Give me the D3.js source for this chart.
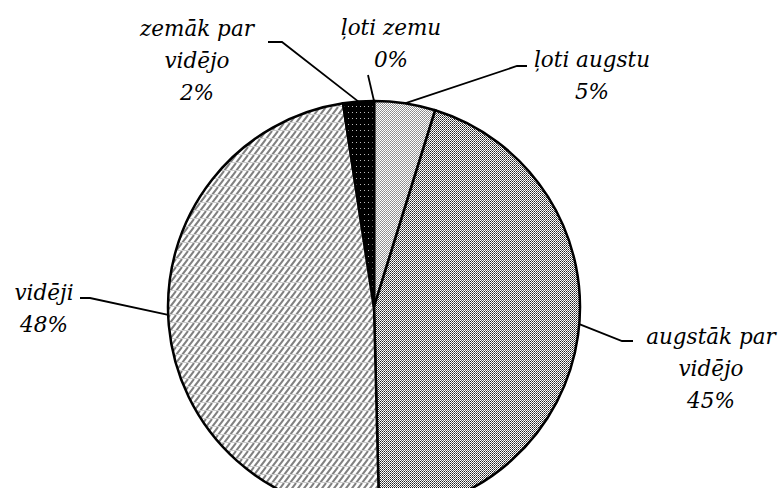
<!DOCTYPE html>
<html lang="lv">
<head>
    <meta charset="UTF-8">
    <title>Pie</title>
    <script src="https://d3js.org/d3.v7.min.js"></script>
    <style>
        body { margin: 0; background: #fff; }
        text { font-family: 'DejaVu Serif', serif; font-style: italic; font-size: 21.5px; fill: #000; }
        .slice { stroke: #000; stroke-width: 2.5px; }
        .leader { stroke: #000; stroke-width: 1.8px; fill: none; }
    </style>
</head>
<body>
    <svg id="chart" width="781" height="488"></svg>
    <script>
        // Dati
        const categories = ["ļoti augstu", "augstāk par vidējo", "vidēji", "zemāk par vidējo", "ļoti zemu"];
        const values = [4.8, 44.8, 48.0, 2.4, 0.0];
        const labelLines = [["ļoti augstu", "5%"], ["augstāk par", "vidējo", "45%"], ["vidēji", "48%"], ["zemāk par", "vidējo", "2%"], ["ļoti zemu", "0%"]];

        // Etiķešu izvietojums (teksta centrs, pirmā bāzlīnija, līnijas elkonis, piesaistes nobīde)
        const labelLayout = [
            { x: 592, y: 67, elbow: [[517, 66], [527, 66]], shift: 0 },
            { x: 711, y: 344, elbow: [[622, 341], [633, 341]], shift: -0.055 },
            { x: 44, y: 300, elbow: [[90, 298], [80, 298]], shift: 0.05 },
            { x: 197, y: 36, elbow: [[282, 42], [268, 42]], shift: 0 },
            { x: 391, y: 35, elbow: [[368, 75]], shift: 0 }
        ];

        const svg = d3.select("#chart");
        const cx = 374, cy = 307, r = 206;

        // Rakstu aizpildījumi
        const defs = svg.append("defs");
        function pattern(id, w, h, draw) {
            const p = defs.append("pattern").attr("id", id)
                .attr("patternUnits", "userSpaceOnUse")
                .attr("width", w).attr("height", h);
            p.append("rect").attr("width", w).attr("height", h).attr("fill", "#fff");
            draw(p);
        }
        // gaiša rūtiņa
        pattern("p0", 2, 2, p => {
            p.append("rect").attr("width", 1).attr("height", 1).attr("fill", "#888");
            p.append("rect").attr("x", 1).attr("y", 1).attr("width", 1).attr("height", 1).attr("fill", "#999");
        });
        // tumšāka rūtiņa
        pattern("p1", 2, 2, p => {
            p.append("rect").attr("width", 1).attr("height", 1).attr("fill", "#222");
            p.append("rect").attr("x", 1).attr("y", 1).attr("width", 1).attr("height", 1).attr("fill", "#666");
        });
        // slīpas svītras
        pattern("p2", 6, 8, p => {
            p.append("path").attr("d", "M0,8 L6,0 M-6,8 L0,0 M6,8 L12,0")
                .attr("stroke", "#808080").attr("stroke-width", 2);
            p.append("rect").attr("y", 7).attr("width", 6).attr("height", 1).attr("fill", "#ccc");
        });
        // melns ar punktiem
        pattern("p3", 4, 6, p => {
            p.select("rect").attr("fill", "#000");
            p.append("rect").attr("x", 2).attr("y", 3).attr("width", 1).attr("height", 1).attr("fill", "#bbb");
        });
        pattern("p4", 4, 6, p => { p.select("rect").attr("fill", "#000"); });

        const pie = d3.pie().sort(null).value(d => d)(values);
        const arc = d3.arc().innerRadius(0).outerRadius(r);

        const g = svg.append("g").attr("transform", `translate(${cx},${cy})`);
        g.selectAll("path")
            .data(pie)
            .join("path")
            .attr("class", "slice")
            .attr("d", arc)
            .attr("fill", (d, i) => `url(#p${i})`);

        // Vadlīnijas
        pie.forEach((d, i) => {
            const a = (d.startAngle + d.endAngle) / 2 + labelLayout[i].shift;
            const pt = [cx + r * Math.sin(a), cy - r * Math.cos(a)];
            const pts = [pt].concat(labelLayout[i].elbow);
            svg.append("path").attr("class", "leader").attr("d", d3.line()(pts));
        });

        // Etiķetes
        labelLines.forEach((lines, i) => {
            const L = labelLayout[i];
            const t = svg.append("text").attr("text-anchor", "middle");
            lines.forEach((s, k) => {
                t.append("tspan").attr("x", L.x).attr("y", L.y + k * 32).text(s);
            });
        });
    </script>
</body>
</html>
